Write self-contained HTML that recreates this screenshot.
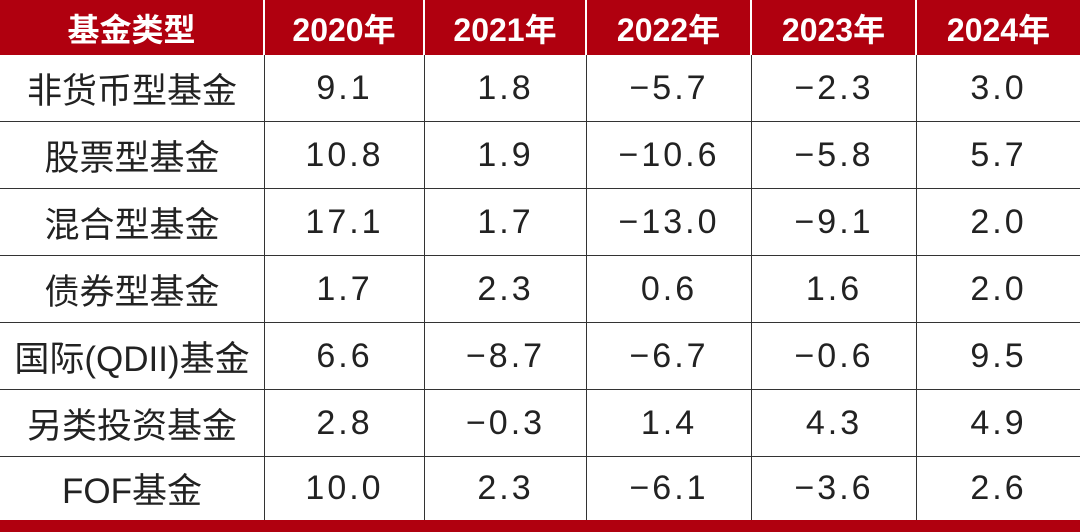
<!DOCTYPE html>
<html><head><meta charset="utf-8"><style>
body{margin:0;width:1080px;height:532px;overflow:hidden;background:#fff;font-family:"Liberation Sans","Noto Sans CJK SC",sans-serif;}
.c{position:absolute;display:flex;align-items:center;justify-content:center;box-sizing:border-box;}
.h{background:#b0000f;color:#fff;font-size:32px;font-weight:bold;height:55px;top:0;border-right:2px solid #fff;}
.b{font-size:34px;color:#222;border-right:1.5px solid #333;border-bottom:1.5px solid #333;letter-spacing:3px;}
</style></head><body>
<div id="t"></div>
<div class="c" style="left:0;top:520px;width:1080px;height:12px;background:#b0000f"></div>
<script>
const headers=["基金类型","2020年","2021年","2022年","2023年","2024年"];
const rows=["非货币型基金","股票型基金","混合型基金","债券型基金","国际(QDII)基金","另类投资基金","FOF基金"];
const vals=[["9.1","1.8","−5.7","−2.3","3.0"],["10.8","1.9","−10.6","−5.8","5.7"],["17.1","1.7","−13.0","−9.1","2.0"],["1.7","2.3","0.6","1.6","2.0"],["6.6","−8.7","−6.7","−0.6","9.5"],["2.8","−0.3","1.4","4.3","4.9"],["10.0","2.3","−6.1","−3.6","2.6"]];
const xs=[0,265,425,587,752,917,1080];
const ys=[55,122,189,256,323,390,457,520];
const t=document.getElementById('t');
headers.forEach((h,i)=>{const d=document.createElement('div');d.className='c h';


d.style.left=xs[i]+'px';d.style.width=(xs[i+1]-xs[i])+'px';if(i==5)d.style.borderRight='none';d.textContent=h;t.appendChild(d);});
rows.forEach((r,ri)=>{[r].concat(vals[ri]).forEach((v,ci)=>{const d=document.createElement('div');d.className='c b';


d.style.left=xs[ci]+'px';d.style.width=(xs[ci+1]-xs[ci])+'px';d.style.top=ys[ri]+'px';d.style.height=(ys[ri+1]-ys[ri])+'px';
if(ci==5)d.style.borderRight='none';if(ri==6)d.style.borderBottom='none';if(ci==0){d.style.letterSpacing='0';d.style.fontSize='35px';}
d.textContent=v;t.appendChild(d);});});
</script>
</body></html>
